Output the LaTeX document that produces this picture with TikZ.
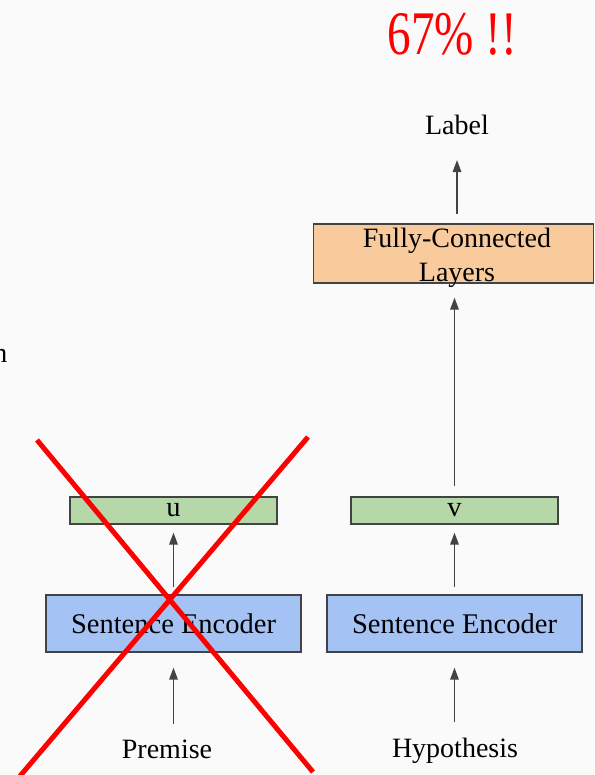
\documentclass[tikz,border=0pt]{standalone}
\usepackage{fontspec}
\setmainfont{Liberation Serif}
\usetikzlibrary{arrows.meta}
\definecolor{bgc}{HTML}{FAFAFA}
\definecolor{edge}{HTML}{434343}
\definecolor{encfill}{HTML}{A4C2F4}
\definecolor{vecfill}{HTML}{B6D7A8}
\definecolor{fcfill}{HTML}{F9CB9C}
\begin{document}
\begin{tikzpicture}[x=1pt,y=-1pt,
  txt/.style={inner sep=0pt,font=\fontsize{28}{33}\selectfont,text=black},
  boxbase/.style={draw=edge,line width=1.3pt,inner sep=0pt,font=\fontsize{28.5}{33}\selectfont},
  encbox/.style={boxbase,fill=encfill,minimum width=255pt,minimum height=57pt},
  vecbox/.style={boxbase,fill=vecfill,minimum width=207pt,minimum height=27pt},
  fcbox/.style={boxbase,fill=fcfill,minimum width=280pt,minimum height=59pt},
  arr/.style={draw=edge,line width=1.6pt,-{Triangle[length=12pt,width=8.5pt]}},
  cross/.style={draw=red,line width=5pt}
]
% canvas
\fill[bgc] (0,0) rectangle (594,775);
\clip (0,0) rectangle (594,775);

% headline
\node[anchor=base,inner sep=0pt,text=red,xscale=0.76,font=\fontsize{62}{62}\selectfont] (score) at (452.5,55) {67\% !!};

% fragment of text at the left edge
\node[txt,anchor=base east] (frag) at (7.5,362) {n};

% boxes
\node[encbox] (encL) at (173.5,623.5) {Sentence Encoder};
\node[encbox] (encR) at (454.5,623.5) {Sentence Encoder};
\node[vecbox] (u) at (173.5,510.5) {u};
\node[vecbox] (v) at (454.5,510.5) {v};
\node[fcbox] (fc) at (453.5,253.5) {};
\node[txt,align=center,font=\fontsize{28}{34}\selectfont] (fctext) at (457,258) {Fully-Connected\\Layers};

% text labels
\node[txt] (prem) at (167,749) {Premise};
\node[txt] (hyp) at (455,751) {Hypothesis};
\node[txt] (lab) at (457,125) {Label};

% connectors
\draw[arr,shorten <=15pt,shorten >=15pt] (prem.north -| encL.south) -- (encL.south);
\draw[arr,shorten <=16pt,shorten >=15pt] (hyp.north -| encR.south) -- (encR.south);
\draw[arr,shorten <=7pt,shorten >=8pt] (encL.north) -- (u.south);
\draw[arr,shorten <=7pt,shorten >=8pt] (encR.north) -- (v.south);
\draw[arr,shorten <=10pt,shorten >=14pt] (v.north) -- (v.north |- fc.south);
\draw[arr,shorten <=9pt,shorten >=25pt] (fc.north -| lab.south) -- (lab.south);

% crossing-out of the premise branch
\coordinate (xa1) at (37,440);
\coordinate (xa2) at (313,772);
\coordinate (xb1) at (308,437);
\coordinate (xb2) at (20,776);
\draw[cross] (xa1) -- (xa2);
\draw[cross] (xb1) -- (xb2);
\end{tikzpicture}
\end{document}
